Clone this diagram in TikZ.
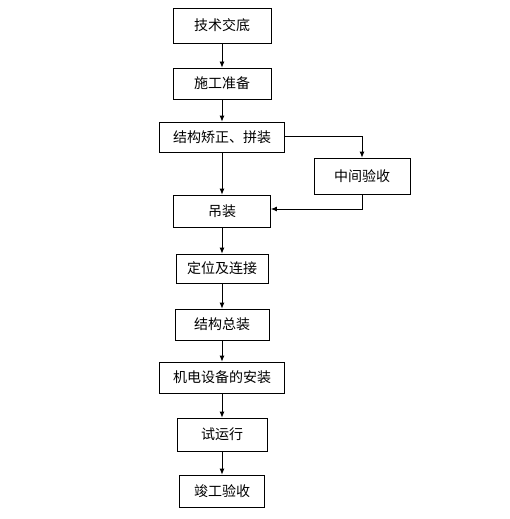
\documentclass[tikz,border=0pt]{standalone}
\usepackage{fontspec}
\setmainfont{Noto Sans CJK SC}
\usetikzlibrary{arrows.meta}
\begin{document}
\begin{tikzpicture}[x=1pt,y=-1pt,
  box/.style={draw,line width=0.8pt,inner sep=0pt,minimum height=31pt,font=\fontsize{14}{16}\selectfont},
  flow/.style={line width=0.8pt,-{Latex[length=6pt,width=5pt]}}]
\useasboundingbox (0,0) rectangle (510,519);
\node[box,minimum width=98pt,minimum height=35pt] (brief) at (222,25.5) {技术交底};
\node[box,minimum width=98pt] (prep) at (222,83.5) {施工准备};
\node[box,minimum width=125pt,minimum height=30pt] (fix) at (222,137) {结构矫正、拼装};
\node[box,minimum width=96pt,minimum height=36pt] (check) at (362,176) {中间验收};
\node[box,minimum width=97pt,minimum height=32pt] (hoist) at (222,211) {吊装};
\node[box,minimum width=92pt,minimum height=29pt] (place) at (222,268.5) {定位及连接};
\node[box,minimum width=94pt] (assem) at (222,324.5) {结构总装};
\node[box,minimum width=125pt] (equip) at (222,377.5) {机电设备的安装};
\node[box,minimum width=90pt,minimum height=33pt] (trial) at (222,434.5) {试运行};
\node[box,minimum width=85pt,minimum height=32pt] (accept) at (222,491) {竣工验收};
\coordinate (turn1) at (362,136);
\coordinate (turn2) at (362,209);
\draw[flow] (brief) -- (prep);
\draw[flow] (prep) -- (fix);
\draw[flow] (fix) -- (hoist);
\draw[flow] (fix.east |- turn1) -- (turn1) -- (check);
\draw[flow] (check) -- (turn2) -- (hoist.east |- turn2);
\draw[flow] (hoist) -- (place);
\draw[flow] (place) -- (assem);
\draw[flow] (assem) -- (equip);
\draw[flow] (equip) -- (trial);
\draw[flow] (trial) -- (accept);
\end{tikzpicture}
\end{document}
